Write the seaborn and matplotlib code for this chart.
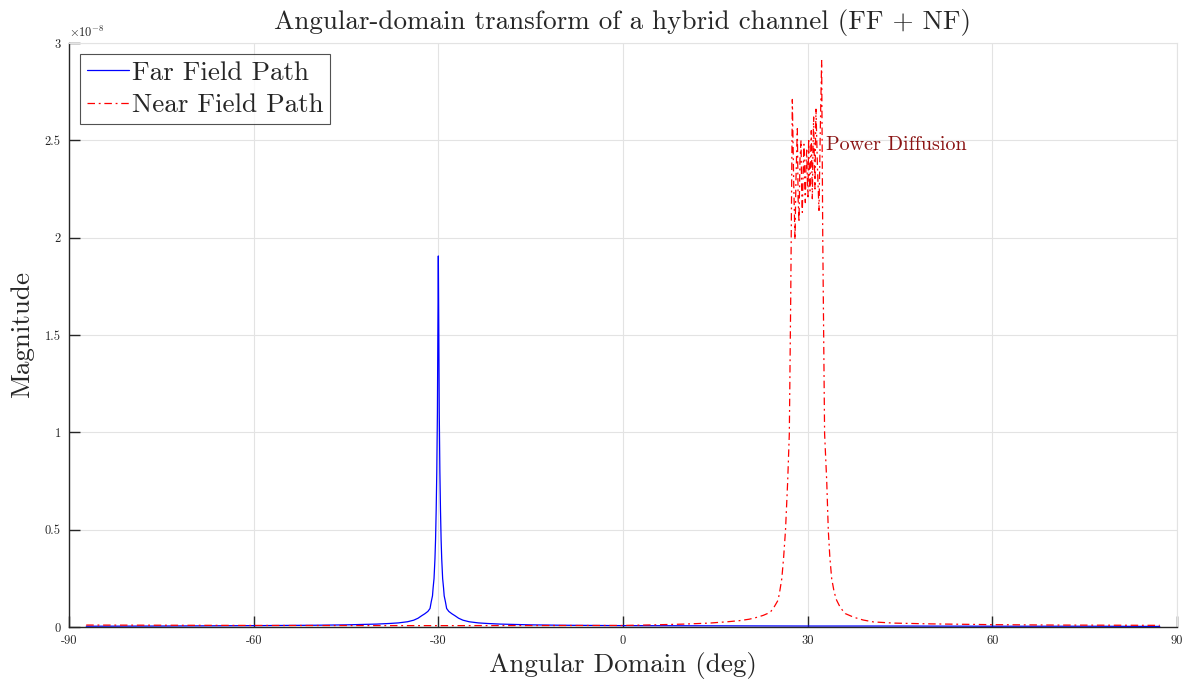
import numpy as np
import pandas as pd
import matplotlib
matplotlib.use("Agg")
import matplotlib.pyplot as plt
import seaborn as sns

# ---- data (magnitudes in units of 1e-8) ----
ff_deg = [-87.2, -75, -60, -50, -45, -40, -38, -36.5, -35, -34,
          -33.3, -32.7, -32.2, -31.7, -31.35, -31.15, -30.95, -30.85, -30.7, -30.55,
          -30.45, -30.35, -30.25, -30.15, -30.08, -30.0, -29.92, -29.85, -29.75, -29.65,
          -29.55, -29.45, -29.3, -29.15, -29.05, -28.85, -28.65, -28.3, -27.8, -27.3,
          -26.7, -26.0, -25.0, -23.5, -22, -20, -15, -10, 0, 15,
          30, 45, 60, 75, 87.2]
ff_mag = [0.004, 0.005, 0.007, 0.009, 0.011, 0.015, 0.018, 0.021, 0.027, 0.035,
          0.045, 0.058, 0.068, 0.080, 0.095, 0.13, 0.16, 0.20, 0.249, 0.35,
          0.45, 0.60, 0.80, 1.10, 1.50, 1.906, 1.50, 1.10, 0.80, 0.60,
          0.45, 0.35, 0.249, 0.20, 0.16, 0.13, 0.095, 0.080, 0.068, 0.058,
          0.045, 0.035, 0.027, 0.021, 0.018, 0.015, 0.011, 0.009, 0.007, 0.006,
          0.005, 0.005, 0.004, 0.004, 0.003]

nf_deg = [-87.2, -60, -30, 0, 5, 10, 14, 17, 19, 20.5, 21.8, 22.8, 23.9, 24.5, 25.2, 25.5,
          25.8, 26.1, 26.4, 26.75, 27.02, 27.25, 27.51, 27.72, 27.94, 28.1, 28.32, 28.45, 28.59,
          28.75, 28.92, 29.02, 29.13, 29.27, 29.40, 29.51, 29.62, 29.73, 29.84, 29.95, 30.05,
          30.16, 30.27, 30.38, 30.48, 30.59, 30.68, 30.76, 30.86, 30.97, 31.08, 31.19, 31.27,
          31.35, 31.6, 31.84, 32.05, 32.27, 32.45, 32.75, 33.1, 33.35, 33.6, 33.9, 34.3, 34.7,
          35.3, 36.1, 37.5, 39, 40.7, 44, 50, 55, 60, 70, 87.2]
nf_mag = [0.010, 0.008, 0.007, 0.008, 0.011, 0.015, 0.020, 0.027, 0.033, 0.040, 0.050, 0.060, 0.075, 0.10, 0.138, 0.19,
          0.249, 0.36, 0.4975, 0.746, 0.994, 1.7, 2.71, 2.3, 1.99, 2.3, 2.56, 2.2, 2.08,
          2.4, 2.50, 2.25, 2.13, 2.35, 2.48, 2.28, 2.18, 2.38, 2.45, 2.30, 2.21,
          2.51, 2.32, 2.24, 2.42, 2.55, 2.36, 2.20, 2.45, 2.62, 2.40, 2.25, 2.50,
          2.66, 2.35, 2.14, 2.55, 2.91, 2.0, 0.994, 0.746, 0.4975, 0.36, 0.249, 0.18, 0.138,
          0.10, 0.069, 0.050, 0.036, 0.026, 0.020, 0.016, 0.014, 0.012, 0.010, 0.0085]

SCALE = 1e-8
xticks = [-90, -60, -30, 0, 30, 60, 90]
yticks = [0, 0.5, 1, 1.5, 2, 2.5, 3]

ff = pd.DataFrame({"deg": ff_deg, "mag": np.array(ff_mag) * SCALE})
nf = pd.DataFrame({"deg": nf_deg, "mag": np.array(nf_mag) * SCALE})

sns.set_style("ticks")
plt.rcParams["font.family"] = ["cmr10", "DejaVu Serif"]
plt.rcParams["mathtext.fontset"] = "cm"
plt.rcParams["axes.unicode_minus"] = False

fig = plt.figure(figsize=(11.88, 6.82), dpi=100)
ax = fig.add_axes([69 / 1188, 1 - 627 / 682, (1177 - 69) / 1188, (627 - 43) / 682])

sns.lineplot(data=ff, x="deg", y="mag", ax=ax, color="#0000ff", lw=0.9,
             label="Far Field Path", sort=False, estimator=None)
sns.lineplot(data=nf, x="deg", y="mag", ax=ax, color="#ff0000", lw=0.9,
             label="Near Field Path", sort=False, estimator=None, dashes=False)
ax.lines[1].set_dashes((6, 3, 1.5, 3))

ax.set_xlim(-90, 90)
ax.set_ylim(0, 3 * SCALE)
ax.set_xticks(xticks)
ax.set_yticks([v * SCALE for v in yticks])
ax.set_xticklabels([f"{v:g}" for v in xticks])
ax.set_yticklabels([f"{v:g}" for v in yticks])
ax.tick_params(direction="in", length=8, width=1, labelsize=9, colors="#262626")
ax.tick_params(axis="y", pad=6)
ax.tick_params(axis="x", pad=6)
ax.grid(True, color="#e3e3e3", lw=0.8)
for s in ["left", "bottom"]:
    ax.spines[s].set_color("#262626")
    ax.spines[s].set_linewidth(1.0)
for s in ["top", "right"]:
    ax.spines[s].set_color("#e3e3e3")
    ax.spines[s].set_linewidth(0.8)

ax.text(0.0, 1.005, r"$\times10^{-8}$", transform=ax.transAxes, fontsize=9,
        color="#262626", ha="left", va="bottom")

ax.set_title("Angular-domain transform of a hybrid channel (FF + NF)", fontsize=19.5, pad=10)
ax.set_xlabel("Angular Domain (deg)", fontsize=19.5, color="#262626", labelpad=3)
ax.set_ylabel("Magnitude", fontsize=19.5, color="#262626", labelpad=8)

ax.text(33.0, 2.476 * SCALE, "Power Diffusion", fontsize=14.5, color="#8b1414",
        ha="left", va="center")

leg = ax.legend(loc="upper left", fontsize=19.5, frameon=True, fancybox=False,
                handlelength=1.55, handletextpad=0.12, borderpad=0.25, labelspacing=0.32,
                borderaxespad=0.4, edgecolor="#262626")
leg.get_frame().set_linewidth(0.8)

fig.savefig("out.png", dpi=100)
